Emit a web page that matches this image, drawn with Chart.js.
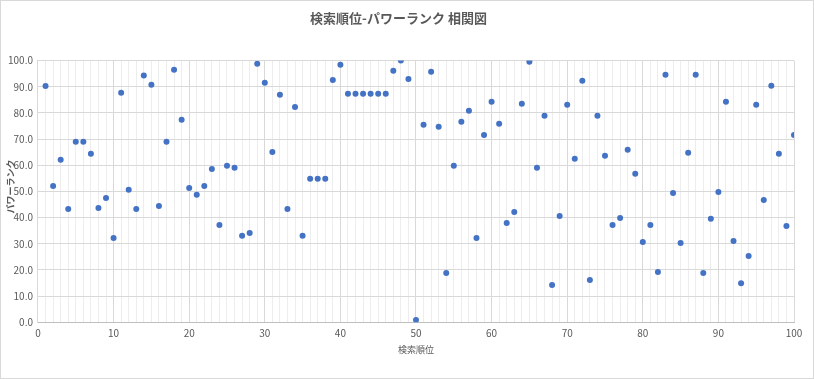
<!DOCTYPE html>
<html><head><meta charset="utf-8">
<script src="https://cdn.jsdelivr.net/npm/chart.js@4/dist/chart.umd.min.js"></script>
<style>
html,body{margin:0;padding:0;background:#fff;}
#wrap{position:relative;width:814px;height:379px;box-sizing:border-box;border:1px solid #d9d9d9;}
canvas{display:block;}
</style></head>
<body><div id="wrap"><canvas id="c"></canvas></div>
<script>
const searchRank = [];
for (let i = 1; i <= 100; i++) searchRank.push(i);
const powerRank = [
 90.3,52.1,62.1,43.3,69.0,69.0,64.4,43.7,47.5,32.2,
 87.7,50.6,43.3,94.3,90.8,44.4,69.0,96.5,77.4,51.3,
 48.7,52.1,58.6,37.2,59.8,59.0,33.0,34.1,98.8,91.5,
 65.1,86.9,43.3,82.3,33.0,54.8,54.8,54.8,92.6,98.4,
 87.3,87.3,87.3,87.3,87.3,87.3,96.1,100.0,93.0,0.8,
 75.5,95.7,74.7,18.8,59.8,76.6,80.8,32.2,71.6,84.3,
 75.9,37.9,42.1,83.5,99.6,59.0,78.9,14.2,40.6,83.1,
 62.5,92.3,16.1,78.9,63.6,37.2,39.8,65.9,56.7,30.7,
 37.2,19.2,94.6,49.4,30.3,64.8,94.6,18.8,39.5,49.8,
 84.3,31.0,14.9,25.3,83.1,46.7,90.4,64.4,36.8,71.6
];
const titleText = '検索順位-パワーランク 相関図';
const xTitle = '検索順位';
const yTitle = 'パワーランク';

const points = searchRank.map((x, i) => ({x: x, y: powerRank[i]}));
const FONT = "'Noto Sans CJK JP', 'DejaVu Sans', sans-serif";

const yTitlePlugin = {
  id: 'yTitle',
  afterDraw(chart) {
    const ctx = chart.ctx;
    const a = chart.chartArea;
    ctx.save();
    ctx.translate(10, (a.top + a.bottom) / 2 - 5);
    ctx.rotate(-Math.PI / 2);
    ctx.fillStyle = '#595959';
    ctx.font = "bold 9px " + FONT;
    ctx.textAlign = 'center';
    ctx.textBaseline = 'middle';
    ctx.fillText(yTitle, 0, 0);
    ctx.restore();
  }
};

new Chart(document.getElementById('c'), {
  type: 'scatter',
  data: { datasets: [{
    data: points,
    backgroundColor: '#4472C4',
    borderColor: '#4472C4',
    pointRadius: 3,
    pointHoverRadius: 3,
    borderWidth: 0
  }]},
  plugins: [yTitlePlugin],
  options: {
    responsive: true,
    maintainAspectRatio: false,
    animation: false,
    layout: { padding: { left: 2, right: 19, top: 6, bottom: 19 } },
    plugins: {
      legend: { display: false },
      tooltip: { enabled: false },
      title: {
        display: true, text: titleText, color: '#595959',
        font: { family: FONT, size: 13, weight: 'bold' },
        padding: { top: 3, bottom: 35 }
      }
    },
    scales: {
      x: {
        type: 'linear', min: 0, max: 100,
        border: { color: '#bfbfbf' },
        grid: {
          color: c => (c.tick && c.tick.value % 10 === 0) ? '#d9d9d9' : '#ededed',
          drawTicks: false
        },
        ticks: {
          stepSize: 1, autoSkip: false, maxRotation: 0,
          color: '#595959', font: { family: FONT, size: 10 }, padding: 5,
          callback: v => (v % 10 === 0 ? String(v) : '')
        },
        title: { display: true, text: xTitle, color: '#595959',
          font: { family: FONT, size: 9 }, padding: { top: 0 } }
      },
      y: {
        type: 'linear', min: 0, max: 100,
        border: { color: '#d9d9d9' },
        grid: { color: '#d9d9d9', drawTicks: false },
        ticks: {
          stepSize: 10, color: '#595959', font: { family: FONT, size: 10 }, padding: 5,
          callback: v => Number(v).toFixed(1)
        },
        title: { display: false }
      }
    }
  }
});
</script></body></html>
